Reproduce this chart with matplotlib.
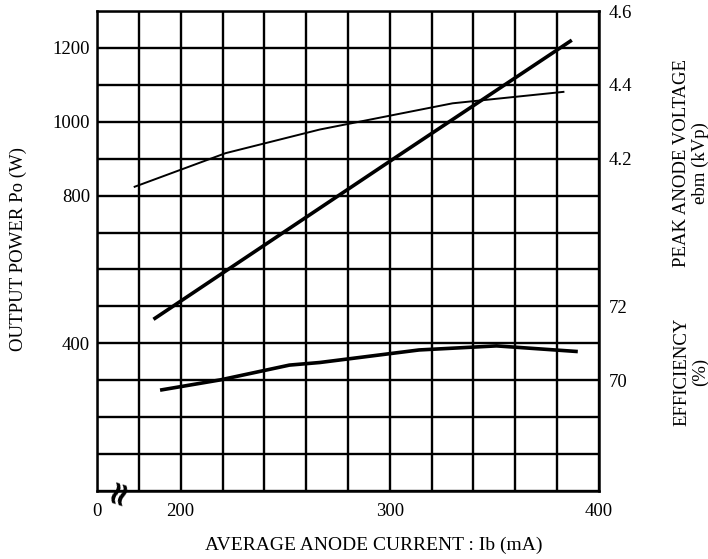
import matplotlib
matplotlib.use("Agg")
from matplotlib import pyplot as plt
import numpy as np

plt.rcParams['font.family'] = 'serif'
plt.rcParams['font.serif'] = ['Liberation Serif', 'DejaVu Serif']

# OUTPUT POWER Po (W) vs anode current
ib_power = [187, 300, 387]
power = [465, 893, 1221]

# PEAK ANODE VOLTAGE ebm (kVp)
ib_volt = [178, 221.5, 266.5, 330, 383]
volt = [4.124, 4.215, 4.279, 4.35, 4.381]

# EFFICIENCY (%)
ib_eff = [191, 219, 252, 266.5, 314, 351, 389]
eff = [69.74, 70.01, 70.41, 70.48, 70.82, 70.93, 70.78]

x_ticks = np.arange(160, 401, 20)
x_labels = {160: '0', 200: '200', 300: '300', 400: '400'}
y_ticks = np.arange(0, 1301, 100)
y_labels = {400: '400', 800: '800', 1000: '1000', 1200: '1200'}

fig = plt.figure(figsize=(7.08, 5.59), dpi=100)
ax = fig.add_axes([97 / 708, 68 / 559, 502 / 708, 480 / 559])

ax.set_xlim(160, 400)
ax.set_ylim(0, 1300)
ax.set_xticks(x_ticks)
ax.set_xticklabels([x_labels.get(int(t), '') for t in x_ticks])
ax.set_yticks(y_ticks)
ax.set_yticklabels([y_labels.get(int(t), '') for t in y_ticks])
ax.grid(True, color='black', linewidth=1.7)
ax.tick_params(length=0, labelsize=13.5, pad=9)
ax.tick_params(axis='y', pad=5)
for s in ax.spines.values():
    s.set_linewidth(1.8)

ax.plot(ib_power, power, color='black', linewidth=2.6, solid_capstyle='butt')

# voltage axis (right, top part)
ax_v = ax.twinx()
ax_v.set_ylim(3.3, 4.6)
ax_v.set_yticks([4.2, 4.4, 4.6])
ax_v.set_yticklabels(['4.2', '4.4', '4.6'])
ax_v.tick_params(length=0, labelsize=13.5, pad=7)
ax_v.plot(ib_volt, volt, color='black', linewidth=1.4)
for s in ax_v.spines.values():
    s.set_visible(False)

# efficiency axis (right, bottom part)
ax_e = ax.twinx()
ax_e.set_ylim(67, 80)
ax_e.set_yticks([70, 72])
ax_e.set_yticklabels(['70', '72'])
ax_e.tick_params(length=0, labelsize=13.5, pad=7)
ax_e.plot(ib_eff, eff, color='black', linewidth=2.6)
for s in ax_e.spines.values():
    s.set_visible(False)

# axis break mark
ax.text(0.042, 0.0, '\u2248', transform=ax.transAxes, rotation=72,
        fontsize=24, fontweight='bold', ha='center', va='center',
        family='DejaVu Sans', clip_on=False)

ax.set_xlabel('AVERAGE ANODE CURRENT : Ib (mA)', fontsize=14)
ax.xaxis.set_label_coords(0.552, -0.096)
fig.text(18 / 708, 1 - 249 / 559, 'OUTPUT POWER Po (W)', rotation=90,
         fontsize=13.5, ha='center', va='center')
fig.text(691 / 708, 1 - 163 / 559, 'PEAK ANODE VOLTAGE\nebm (kVp)', rotation=90,
         fontsize=13.5, ha='center', va='center', multialignment='center',
         linespacing=1.1)
fig.text(691 / 708, 1 - 372 / 559, 'EFFICIENCY\n(%)', rotation=90,
         fontsize=13.5, ha='center', va='center', multialignment='center',
         linespacing=1.1)

plt.savefig('out.png', dpi=100)
